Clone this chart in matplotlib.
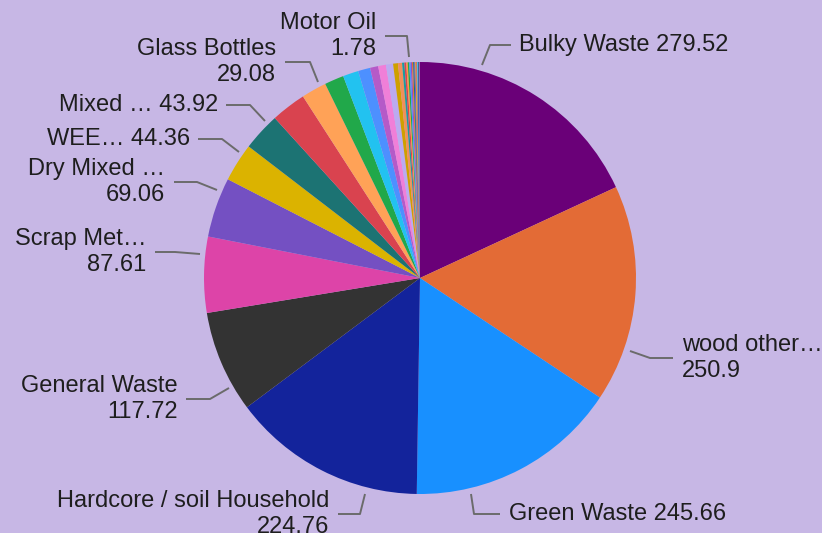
import matplotlib
matplotlib.use("Agg")
import matplotlib.pyplot as plt

# waste types, largest first (unlabelled ones are hidden in the chart)
names = ["Bulky Waste", "wood other…", "Green Waste", "Hardcore / soil Household",
         "General Waste", "Scrap Met…", "Dry Mixed …", "WEE…", "Mixed …", "",
         "Glass Bottles", "", "", "", "", "", "", "", "", "", "", "Motor Oil",
         "", "", "", "", "", "", "", "", "", "", "", "", ""]
values = [279.52, 250.9, 245.66, 224.76, 117.72, 87.61, 69.06, 44.36, 43.92, 40.5,
          29.08, 22.3, 18.0, 14.0, 9.4, 9.0, 8.2, 5.6, 4.7, 2.6, 2.1, 1.78,
          1.7, 1.6, 1.5, 1.4, 1.3, 1.2, 1.1, 1.0, 0.9, 0.8, 0.6, 0.5, 0.4]

palette = ["#6a0078", "#e36b36", "#1890ff", "#13239b", "#333333", "#dd44a8",
           "#7450c2", "#dbb300", "#1c7373", "#d9434f", "#ffa257", "#21a84a",
           "#22c2f0", "#4d90ff", "#b55ac8", "#f07fd8", "#bbaaf0", "#cfa000",
           "#f0905a", "#1c9c9c", "#d9434f", "#ff9a3c", "#21a84a", "#4d90ff",
           "#8a55c8", "#e36b36", "#1c7373", "#7450c2", "#dbb300", "#d9434f",
           "#22c2f0", "#13239b", "#21a84a", "#f07fd8", "#6a0078"]

# label layout in pixels: (text, line points, text x, text y, align)
W, H = 822, 533
labels = {
    "Bulky Waste": ("Bulky Waste 279.52", [(482, 65), (490, 45), (511, 45)], 519, 45, "left"),
    "wood other…": ("wood other…\n250.9", [(630, 351), (650, 358), (673, 358)], 682, 358, "left"),
    "Green Waste": ("Green Waste 245.66", [(471, 494), (474, 514), (500, 514)], 509, 514, "left"),
    "Hardcore / soil Household": ("Hardcore / soil Household\n224.76", [(365, 494), (360, 514), (338, 514)], 329, 514, "right"),
    "General Waste": ("General Waste\n117.72", [(229, 388), (210, 399), (186, 399)], 178, 399, "right"),
    "Scrap Met…": ("Scrap Met…\n87.61", [(200, 254), (175, 252), (155, 252)], 146, 252, "right"),
    "Dry Mixed …": ("Dry Mixed …\n69.06", [(217, 190), (197, 182), (174, 182)], 165, 182, "right"),
    "WEE…": ("WEE… 44.36", [(239, 152), (222, 139), (198, 139)], 190, 139, "right"),
    "Mixed …": ("Mixed … 43.92", [(265, 121), (250, 105), (226, 105)], 218, 105, "right"),
    "Glass Bottles": ("Glass Bottles\n29.08", [(318, 82), (310, 62), (285, 62)], 276, 62, "right"),
    "Motor Oil": ("Motor Oil\n1.78", [(409, 57), (407, 36), (385, 36)], 376, 36, "right"),
}

plt.rcParams['font.family'] = ['Liberation Sans', 'DejaVu Sans']
bg = "#c7b7e5"
fig = plt.figure(figsize=(W / 100, H / 100), dpi=100, facecolor=bg)
ax = fig.add_axes([0, 0, 1, 1])
ax.set_facecolor(bg)
ax.set_xlim(0, W)
ax.set_ylim(0, H)
ax.set_aspect("equal")
ax.axis("off")

ax.pie(values, colors=palette, startangle=90, counterclock=False,
       center=(420, H - 278), radius=216, wedgeprops=dict(linewidth=0))
ax.set_xlim(0, W)
ax.set_ylim(0, H)

for n in names:
    if n not in labels:
        continue
    txt, pts, tx, ty, ha = labels[n]
    ax.plot([p[0] for p in pts], [H - p[1] for p in pts], color="#6b6b6b", lw=1.4,
            solid_capstyle="butt")
    ax.text(tx, H - ty, txt, ha=ha, va="center", fontsize=17, color="#1e1e1e",
            linespacing=1.25, multialignment=ha)

fig.savefig("out.png", dpi=100, facecolor=bg)
